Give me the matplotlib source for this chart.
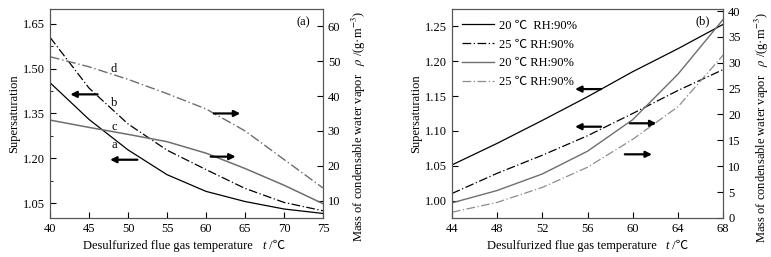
import matplotlib
matplotlib.use("Agg")
import matplotlib.pyplot as plt
from matplotlib.offsetbox import TextArea, HPacker, AnchoredOffsetbox

FAM = ['Liberation Serif', 'Noto Sans CJK SC', 'DejaVu Sans']
plt.rcParams['font.family'] = FAM
plt.rcParams['mathtext.fontset'] = 'stix'
plt.rcParams['font.size'] = 9

# panel (a): temperature 40..75
t_a = [40, 45, 50, 55, 60, 65, 70, 75]
sup_a = [1.453, 1.330, 1.228, 1.145, 1.089, 1.055, 1.030, 1.015]   # curve a, left axis
sup_b = [1.605, 1.435, 1.315, 1.227, 1.162, 1.099, 1.052, 1.024]   # curve b, left axis
mass_c = [33.1, 31.0, 29.0, 26.9, 23.6, 19.2, 14.4, 9.1]            # curve c, right axis
mass_d = [51.3, 48.4, 44.8, 40.7, 36.3, 30.0, 21.8, 13.6]            # curve d, right axis

# panel (b): temperature 44..68
t_b = [44, 48, 52, 56, 60, 64, 68]
sup_20 = [1.051, 1.082, 1.115, 1.149, 1.185, 1.218, 1.253]
sup_25 = [1.010, 1.039, 1.065, 1.093, 1.125, 1.158, 1.188]
mass_20 = [2.9, 5.3, 8.5, 12.9, 19.0, 27.8, 38.4]
mass_25 = [1.1, 3.0, 5.9, 9.8, 15.2, 21.5, 31.5]
legend_labels = ['20 \u2103  RH:90%', '25 \u2103 RH:90%', '20 \u2103 RH:90%', '25 \u2103 RH:90%']

dashdot = (0, (7, 2, 1, 2))
gray = '#6e6e6e'
lgray = '#8c8c8c'
rlab = 'Mass of condensable water vapor   $\\rho$ /(g\u00b7m$^{-3}$)'

fig = plt.figure(figsize=(7.71, 2.57), dpi=100)


def arrow(ax, x0, x1, y):
    ax.annotate('', xy=(x1, y), xytext=(x0, y),
                arrowprops=dict(arrowstyle='-|>', color='k', lw=1.6,
                                mutation_scale=9, shrinkA=0, shrinkB=0))


def xlabel(ax, xc):
    # italic t and the degree sign need different fonts, so pack three pieces
    parts = [TextArea('Desulfurized flue gas temperature   ', textprops=dict(family=FAM, size=9)),
             TextArea('t', textprops=dict(family=FAM, size=9, style='italic')),
             TextArea(' /\u2103', textprops=dict(family=FAM, size=9))]
    box = HPacker(children=parts, align='baseline', pad=0, sep=0)
    ab = AnchoredOffsetbox(loc='upper center', child=box, pad=0, borderpad=0,
                           frameon=False, bbox_to_anchor=(xc, -0.105),
                           bbox_transform=ax.transAxes)
    ax.add_artist(ab)


def style(ax, ax2):
    ax.tick_params(direction='in', length=4, labelsize=9)
    ax.tick_params(which='minor', direction='in', length=2)
    ax2.tick_params(direction='in', length=4, labelsize=9)
    for a in (ax, ax2):
        for s in a.spines.values():
            s.set_color('#555555')
            s.set_linewidth(0.8)


# ---- panel (a)
ax = fig.add_axes([0.0649, 0.152, 0.354, 0.813])
ax2 = ax.twinx()
ax.plot(t_a, sup_a, color='k', lw=0.9)
ax.plot(t_a, sup_b, color='k', lw=0.9, ls=dashdot)
ax2.plot(t_a, mass_c, color=gray, lw=1.1)
ax2.plot(t_a, mass_d, color=gray, lw=1.0, ls=dashdot)
ax.set_xlim(40, 75)
ax.set_ylim(1.0, 1.70)
ax.set_yticks([1.05, 1.20, 1.35, 1.50, 1.65])
ax.set_yticks([1.125, 1.275, 1.425, 1.575], minor=True)
ax.set_xticks([40, 45, 50, 55, 60, 65, 70, 75])
ax2.set_ylim(5, 65)
ax2.set_yticks([10, 20, 30, 40, 50, 60])
ax.set_ylabel('Supersaturation', labelpad=2)
ax2.set_ylabel(rlab)
ax2.yaxis.set_label_coords(1.10, 0.435)
xlabel(ax, 0.49)
style(ax, ax2)
ax.text(72.5, 1.655, '(a)', ha='center', va='center', fontsize=9)
ax.text(48.2, 1.500, 'd', ha='center', va='center', fontsize=9)
ax.text(48.2, 1.385, 'b', ha='center', va='center', fontsize=9)
ax.text(48.2, 1.305, 'c', ha='center', va='center', fontsize=9)
ax.text(48.2, 1.245, 'a', ha='center', va='center', fontsize=9)
arrow(ax, 46.1, 42.6, 1.414)
arrow(ax, 51.2, 47.7, 1.195)
arrow(ax2, 61.0, 64.4, 35.0)
arrow(ax2, 60.6, 63.8, 22.6)

# ---- panel (b)
bx = fig.add_axes([0.586, 0.152, 0.352, 0.813])
bx2 = bx.twinx()
l1, = bx.plot(t_b, sup_20, color='k', lw=0.9)
l2, = bx.plot(t_b, sup_25, color='k', lw=0.9, ls=dashdot)
l3, = bx2.plot(t_b, mass_20, color=gray, lw=1.0)
l4, = bx2.plot(t_b, mass_25, color=lgray, lw=0.9, ls=dashdot)
bx.set_xlim(44, 68)
bx.set_ylim(0.975, 1.275)
bx.set_yticks([1.00, 1.05, 1.10, 1.15, 1.20, 1.25])
bx.set_xticks([44, 48, 52, 56, 60, 64, 68])
bx2.set_ylim(0, 40.4)
bx2.set_yticks([0, 5, 10, 15, 20, 25, 30, 35, 40])
bx.set_ylabel('Supersaturation', labelpad=2)
bx2.set_ylabel(rlab)
bx2.yaxis.set_label_coords(1.11, 0.43)
xlabel(bx, 0.5)
style(bx, bx2)
bx.text(66.2, 1.258, '(b)', ha='center', va='center', fontsize=9)
bx.legend([l1, l2, l3, l4], legend_labels, loc='upper left', frameon=False,
          fontsize=9, handlelength=2.5, labelspacing=0.55, borderaxespad=0.45,
          handletextpad=0.4)
arrow(bx, 57.2, 54.9, 1.160)
arrow(bx, 57.2, 54.9, 1.106)
arrow(bx2, 59.75, 62.1, 18.3)
arrow(bx2, 59.3, 61.7, 12.3)

fig.savefig('out.png', dpi=100)
